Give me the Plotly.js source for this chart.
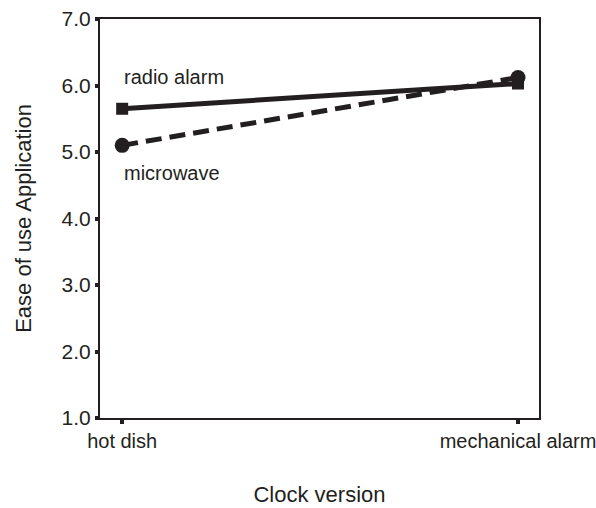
<!DOCTYPE html>
<html><head><meta charset="utf-8">
<script src="https://cdn.plot.ly/plotly-3.0.1.min.js"></script>
<style>body{margin:0;background:#fff}</style>
</head><body>
<div id="chart" style="width:596px;height:508px"></div>
<script>
const categories = ["hot dish", "mechanical alarm"];
const radioAlarm = [5.65, 6.03];
const microwave = [5.1, 6.12];
const yTickVals = [1, 2, 3, 4, 5, 6, 7];
const yTickText = ["1.0", "2.0", "3.0", "4.0", "5.0", "6.0", "7.0"];

const traces = [
  {x: categories, y: radioAlarm, type: "scatter", mode: "lines+markers", name: "radio alarm",
   line: {color: "#231f20", width: 5}, marker: {symbol: "square", size: 12, color: "#231f20"}},
  {x: categories, y: microwave, type: "scatter", mode: "lines+markers", name: "microwave",
   line: {color: "#231f20", width: 5, dash: "16px,8px"}, marker: {symbol: "circle", size: 15, color: "#231f20"}}
];
const layout = {
  width: 596, height: 508,
  margin: {l: 100, r: 57, t: 19, b: 90},
  paper_bgcolor: "#fff", plot_bgcolor: "#fff",
  showlegend: false,
  font: {family: "Liberation Sans, Arial, sans-serif", size: 21, color: "#231f20"},
  xaxis: {type: "category", range: [-0.056, 1.053], showgrid: false, zeroline: false,
    showline: true, linecolor: "#231f20", linewidth: 2, mirror: true,
    ticks: "outside", ticklen: 4, tickwidth: 4, tickcolor: "#231f20",
    tickfont: {size: 20}, title: {text: "Clock version", font: {size: 22}, standoff: 36}},
  yaxis: {range: [1, 7], tickvals: yTickVals, ticktext: yTickText, showgrid: false, zeroline: false,
    showline: true, linecolor: "#231f20", linewidth: 2, mirror: true,
    ticks: "outside", ticklen: 3, tickwidth: 4, tickcolor: "#231f20",
    tickfont: {size: 21}, title: {text: "Ease of use Application", font: {size: 22}, standoff: 24}},
  annotations: [
    {xref: "paper", yref: "y", x: 0.05, y: 6.13, xanchor: "left", yanchor: "middle",
     text: "radio alarm", showarrow: false, font: {size: 20}},
    {xref: "paper", yref: "y", x: 0.05, y: 4.68, xanchor: "left", yanchor: "middle",
     text: "microwave", showarrow: false, font: {size: 20}}
  ]
};
Plotly.newPlot("chart", traces, layout, {displayModeBar: false});
</script>
</body></html>
